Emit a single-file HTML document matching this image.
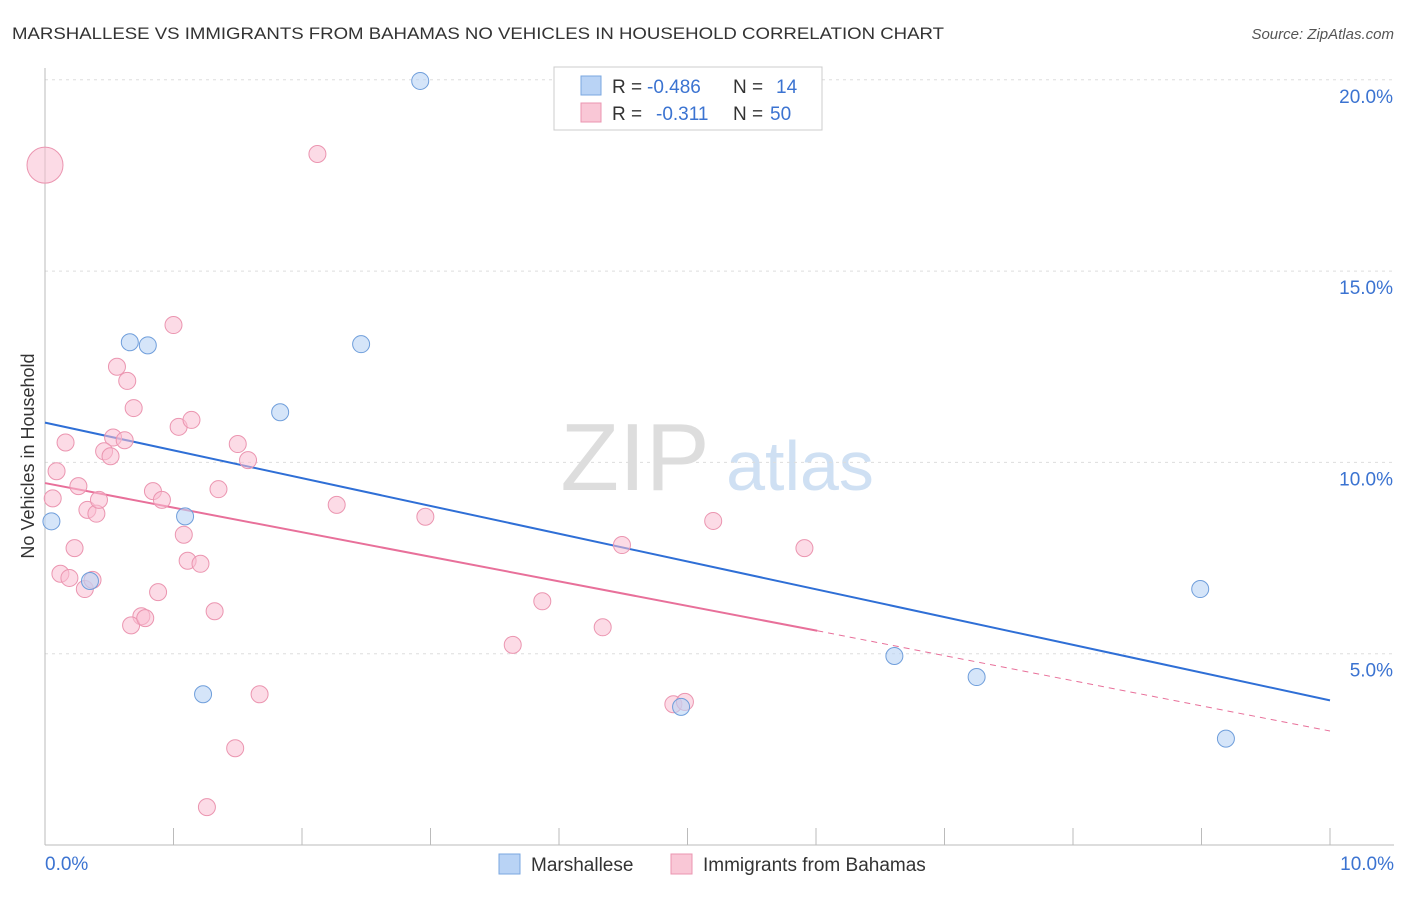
<!DOCTYPE html>
<html><head><meta charset="utf-8"><style>
body{margin:0;background:#fff;font-family:"Liberation Sans",sans-serif;}
svg text{font-family:"Liberation Sans",sans-serif;}
</style></head><body>
<svg id="c" width="1406" height="892" xmlns="http://www.w3.org/2000/svg">
<text x="12" y="39" font-size="17" fill="#333" textLength="932" lengthAdjust="spacingAndGlyphs">MARSHALLESE VS IMMIGRANTS FROM BAHAMAS NO VEHICLES IN HOUSEHOLD CORRELATION CHART</text>
<text x="1394" y="39" font-size="15" fill="#555" font-style="italic" text-anchor="end">Source: ZipAtlas.com</text>
<text x="0" y="0" transform="translate(34,456) rotate(-90)" font-size="18" fill="#333" text-anchor="middle">No Vehicles in Household</text>
<g><text x="635" y="490" font-size="96" fill="#ddd" font-family="Liberation Serif" text-anchor="middle">ZIP</text><text x="800" y="490" font-size="70" fill="#cfe0f3" text-anchor="middle">atlas</text></g>
<g id="grid"></g><g id="axes"></g><g id="lines"></g><g id="pts"></g>
<g>
<rect x="554" y="67" width="268" height="63" fill="#fff" stroke="#ccc"/>
<rect x="581" y="76" width="20" height="19" fill="#b9d3f5" stroke="#7aa7e0"/>
<rect x="581" y="103" width="20" height="19" fill="#f9c7d6" stroke="#eb95b0"/>
<text x="612" y="93" font-size="19" fill="#333">R =</text>
<text x="647" y="93" font-size="19" fill="#3b73d1">-0.486</text>
<text x="733" y="93" font-size="19" fill="#333">N =</text>
<text x="776" y="93" font-size="19" fill="#3b73d1">14</text>
<text x="612" y="120" font-size="19" fill="#333">R =</text>
<text x="656" y="120" font-size="19" fill="#3b73d1">-0.311</text>
<text x="733" y="120" font-size="19" fill="#333">N =</text>
<text x="770" y="120" font-size="19" fill="#3b73d1">50</text>
</g>
<g>
<rect x="499" y="854" width="21" height="20" fill="#b9d3f5" stroke="#7aa7e0"/>
<text x="531" y="871" font-size="19" fill="#333">Marshallese</text>
<rect x="671" y="854" width="21" height="20" fill="#f9c7d6" stroke="#eb95b0"/>
<text x="703" y="871" font-size="19" fill="#333">Immigrants from Bahamas</text>
</g>
</svg>
<script>
const xTicks=[0,1,2,3,4,5,6,7,8,9,10];
const yTicks=[5,10,15,20];
const blueX=[2.92,0.66,0.80,2.46,1.83,0.05,1.09,0.35,1.23,4.95,6.61,7.25,8.99,9.19];
const blueY=[19.97,13.14,13.06,13.09,11.31,8.46,8.59,6.90,3.94,3.61,4.94,4.39,6.69,2.78];
const pinkX=[0,2.12,1.00,0.56,0.64,0.69,1.04,1.14,0.16,0.53,0.62,0.46,0.51,1.50,1.58,0.09,0.06,0.26,0.84,0.91,1.35,0.33,0.40,0.42,2.27,2.96,5.20,5.91,4.49,0.23,1.08,1.11,1.21,0.12,0.19,0.31,0.88,1.32,0.75,0.67,0.78,3.87,4.34,3.64,1.67,1.48,1.26,4.89,4.98,0.37];
const pinkY=[17.77,18.06,13.59,12.50,12.13,11.42,10.93,11.11,10.52,10.65,10.58,10.29,10.16,10.48,10.06,9.77,9.06,9.38,9.25,9.02,9.30,8.76,8.66,9.02,8.89,8.58,8.47,7.76,7.84,7.76,8.11,7.43,7.35,7.09,6.98,6.69,6.61,6.11,5.98,5.74,5.93,6.37,5.69,5.23,3.94,2.53,0.99,3.68,3.74,6.93];
const pinkR=[]; pinkR[0]=18;
const X=v=>45+v*128.5, Y=v=>845-v*38.26;
const NS="http://www.w3.org/2000/svg";
function mk(t,a,p){const e=document.createElementNS(NS,t);for(const k in a)e.setAttribute(k,a[k]);document.getElementById(p).appendChild(e);return e;}
yTicks.forEach(v=>{
 const l=mk('line',{x1:45,x2:1394,y1:Y(v),y2:Y(v),stroke:'#ddd','stroke-dasharray':'3,4'},'grid');
 
 
 const t=mk('text',{x:1393,y:Y(v)+23,'font-size':19,fill:'#3b73d1','text-anchor':'end'},'axes');t.textContent=v.toFixed(1)+'%';
 
 
});
const ax=mk('line',{x1:45,x2:1394,y1:845,y2:845,stroke:'#bbb'},'axes');


const ay=mk('line',{x1:45,x2:45,y1:68,y2:845,stroke:'#bbb'},'axes');


xTicks.forEach(v=>{
 const l=mk('line',{x1:X(v),x2:X(v),y1:828,y2:845,stroke:'#bbb'},'axes');
 
 
});
[[0,'0.0%','start',45],[10,'10.0%','end',1394]].forEach(d=>{
 const t=mk('text',{x:d[3],y:870,'font-size':19,fill:'#3b73d1','text-anchor':d[2]},'axes');t.textContent=d[1];
 
 
});
const bl=mk('line',{x1:X(0),y1:Y(11.04),x2:X(10),y2:Y(3.78),stroke:'#2f6fd6','stroke-width':2},'lines');


const pl=mk('line',{x1:X(0),y1:Y(9.46),x2:X(6.01),y2:Y(5.6),stroke:'#e8709a','stroke-width':2},'lines');


const pd=mk('line',{x1:X(6.01),y1:Y(5.6),x2:X(10),y2:Y(2.98),stroke:'#e8709a','stroke-width':1,'stroke-dasharray':'6,5'},'lines');


pinkX.forEach((x,i)=>{
 const c=mk('circle',{cx:X(x),cy:Y(pinkY[i]),r:pinkR[i]||8.5,fill:'rgba(249,190,210,0.55)',stroke:'#eb95b0','stroke-width':1},'pts');
 
 
});
blueX.forEach((x,i)=>{
 const c=mk('circle',{cx:X(x),cy:Y(blueY[i]),r:8.5,fill:'rgba(185,211,245,0.6)',stroke:'#6f9edb','stroke-width':1},'pts');
 
 
});
</script>
</body></html>
